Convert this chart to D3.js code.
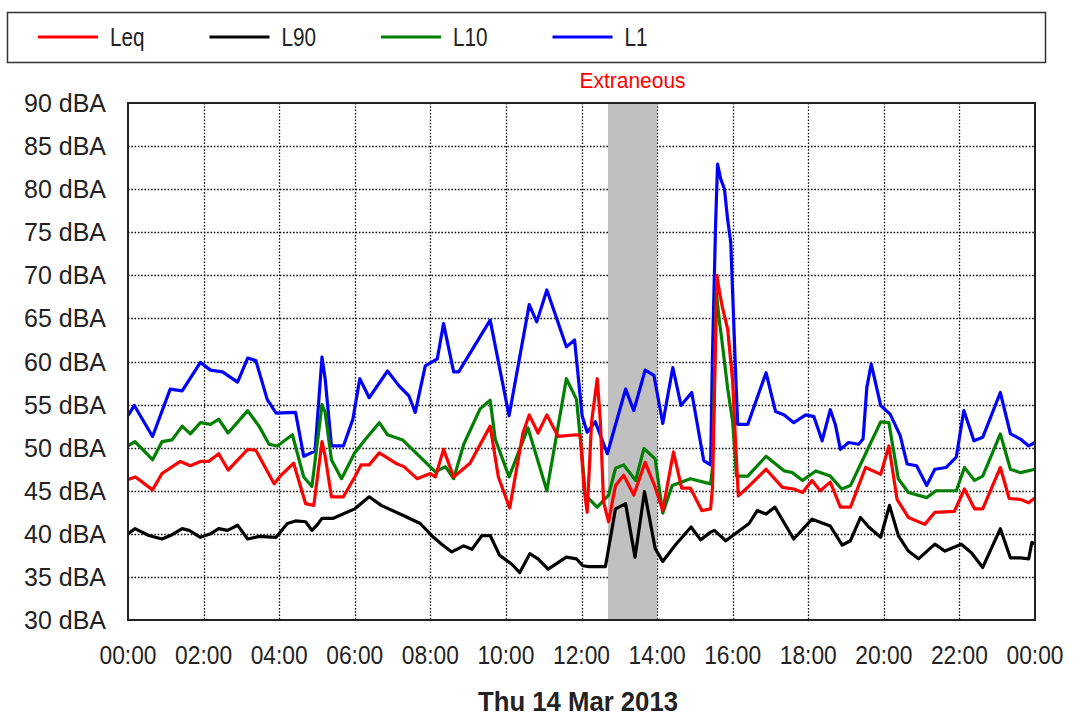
<!DOCTYPE html>
<html>
<head>
<meta charset="utf-8">
<script src="https://cdn.jsdelivr.net/npm/d3@7"></script>
<style>
  body { margin: 0; background: #fff; }
  svg { display: block; }
  .ylab { font-family: "Liberation Sans", Arial, sans-serif; font-size: 25px; fill: #222; }
  .xlab { font-family: "Liberation Sans Narrow", "Liberation Sans", sans-serif; font-size: 25px; fill: #222; }
</style>
</head>
<body>
<svg width="1075" height="718"></svg>
<script>
// series names and colours, in legend order
var seriesNames = ["Leq", "L90", "L10", "L1"];
var seriesColors = ["#ff0000", "#000000", "#008000", "#0000ff"];

var yTicks = [30, 35, 40, 45, 50, 55, 60, 65, 70, 75, 80, 85, 90];
var xTicks = [0, 2, 4, 6, 8, 10, 12, 14, 16, 18, 20, 22, 24];
var xTickLabels = ["00:00", "02:00", "04:00", "06:00", "08:00", "10:00", "12:00",
                   "14:00", "16:00", "18:00", "20:00", "22:00", "00:00"];
var dateLabel = "Thu 14 Mar 2013";

// period marked as extraneous
var bandStart = "12:42", bandEnd = "14:00", bandLabel = "Extraneous";

// [time, dBA]
var l1Data = [["00:00",53.7],["00:10",54.9],["00:39",51.3],["01:07",56.8],["01:26",56.6],["01:55",59.9],
  ["02:11",59.0],["02:30",58.8],["02:54",57.6],["03:10",60.4],["03:23",60.1],["03:41",55.6],["03:55",54.0],
  ["04:26",54.1],["04:39",49.0],["04:57",49.6],["05:08",60.5],["05:13",58.0],["05:23",50.2],["05:42",50.2],
  ["05:57",53.3],["06:08",58.0],["06:23",55.8],["06:52",58.9],["07:10",57.2],["07:26",56.0],["07:36",54.1],
  ["07:52",59.5],["08:11",60.3],["08:21",64.4],["08:37",58.8],["08:45",58.8],["09:35",64.8],["10:05",53.7],
  ["10:37",66.6],["10:49",64.6],["11:05",68.3],["11:36",61.7],["11:49",62.5],["12:01",53.7],["12:09",51.8],
  ["12:22",53.0],["12:41",49.3],["13:10",56.8],["13:23",54.3],["13:41",59.0],["13:55",58.4],["14:09",52.8],
  ["14:25",59.3],["14:38",54.9],["14:55",56.4],["15:14",48.5],["15:25",48.0],["15:28",61.0],["15:33",76.2],
  ["15:36",82.9],["15:41",81.2],["15:47",80.0],["15:52",76.5],["15:57",73.8],["16:04",60.0],["16:08",52.7],
  ["16:24",52.7],["16:53",58.7],["17:08",54.2],["17:22",53.8],["17:37",52.9],["17:56",53.8],["18:09",53.6],
  ["18:22",50.8],["18:35",54.4],["18:43",52.7],["18:51",49.8],["19:04",50.6],["19:20",50.4],["19:27",51.0],
  ["19:33",57.0],["19:40",59.7],["19:55",54.9],["20:10",53.9],["20:26",51.4],["20:37",48.1],["20:52",47.9],
  ["21:08",45.6],["21:21",47.5],["21:39",47.7],["21:55",48.9],["22:07",54.3],["22:23",50.8],["22:37",51.2],
  ["23:05",56.4],["23:21",51.6],["23:37",51.0],["23:50",50.2],["24:00",50.6]];

var l10Data = [["00:00",50.2],["00:11",50.7],["00:39",48.6],["00:54",50.7],["01:10",50.9],["01:26",52.5],
  ["01:39",51.6],["01:55",52.9],["02:11",52.7],["02:24",53.3],["02:39",51.7],["03:10",54.3],["03:28",52.5],
  ["03:44",50.4],["03:57",50.2],["04:21",51.5],["04:39",46.6],["04:52",45.5],["05:08",55.0],["05:13",54.1],
  ["05:23",48.6],["05:39",46.4],["06:00",49.4],["06:16",50.9],["06:39",52.9],["06:52",51.5],["07:16",50.9],
  ["08:08",47.2],["08:24",47.8],["08:37",46.4],["08:53",50.4],["09:19",54.5],["09:35",55.5],["09:43",51.0],
  ["10:05",46.6],["10:35",52.3],["11:05",45.0],["11:36",58.0],["11:52",55.6],["12:01",49.0],["12:06",44.5],
  ["12:25",43.1],["12:43",44.5],["12:54",47.6],["13:07",48.0],["13:26",46.2],["13:39",49.9],["13:57",48.7],
  ["14:09",42.4],["14:24",45.6],["14:53",46.4],["15:25",45.8],["15:28",47.7],["15:34",68.1],["15:39",64.6],
  ["15:42",63.0],["15:52",56.9],["16:00",53.0],["16:06",46.7],["16:24",46.7],["16:53",49.0],["17:22",47.3],
  ["17:35",47.1],["17:51",46.2],["18:12",47.3],["18:35",46.7],["18:53",45.2],["19:07",45.6],["19:31",49.3],
  ["19:55",53.0],["20:08",52.9],["20:23",46.4],["20:39",44.8],["21:08",44.2],["21:23",45.0],["21:55",45.0],
  ["22:08",47.7],["22:24",46.2],["22:37",46.7],["23:05",51.6],["23:21",47.5],["23:37",47.1],["24:00",47.5]];

var l90Data = [["00:00",40.0],["00:11",40.6],["00:33",39.8],["00:54",39.4],["01:10",39.9],["01:26",40.6],
  ["01:37",40.4],["01:55",39.6],["02:11",40.0],["02:24",40.6],["02:38",40.4],["02:54",41.0],["03:10",39.4],
  ["03:28",39.7],["03:55",39.6],["04:13",41.2],["04:26",41.5],["04:42",41.4],["04:52",40.4],["05:00",41.0],
  ["05:08",41.8],["05:26",41.8],["06:00",42.9],["06:23",44.3],["06:42",43.3],["07:18",42.1],["07:44",41.2],
  ["08:05",39.6],["08:18",38.8],["08:34",37.9],["08:53",38.6],["09:06",38.2],["09:22",39.8],["09:35",39.8],
  ["09:50",37.5],["10:09",36.5],["10:22",35.5],["10:38",37.7],["10:51",37.1],["11:07",35.9],["11:36",37.3],
  ["11:52",37.1],["12:02",36.3],["12:12",36.2],["12:38",36.2],["12:54",42.9],["13:10",43.5],["13:25",37.3],
  ["13:40",44.9],["13:57",38.3],["14:09",36.8],["14:29",38.7],["14:54",40.8],["15:09",39.3],["15:25",40.2],
  ["15:31",40.4],["15:49",39.2],["16:26",41.2],["16:39",42.7],["16:53",42.3],["17:07",43.1],["17:37",39.4],
  ["18:06",41.7],["18:35",40.9],["18:54",38.7],["19:07",39.2],["19:23",41.9],["19:36",40.8],["19:55",39.6],
  ["20:09",43.3],["20:23",39.8],["20:39",38.0],["20:55",37.1],["21:21",38.8],["21:37",38.0],["22:03",38.8],
  ["22:19",37.8],["22:37",36.1],["23:05",40.6],["23:21",37.2],["23:37",37.2],["23:50",37.1],["23:55",39.0],
  ["24:00",38.8]];

var leqData = [["00:00",46.3],["00:12",46.6],["00:39",45.1],["00:54",47.0],["01:23",48.4],["01:39",47.9],
  ["01:55",48.4],["02:08",48.4],["02:24",49.3],["02:39",47.4],["03:10",49.8],["03:23",49.7],["03:52",45.8],
  ["04:03",46.8],["04:23",48.2],["04:42",43.5],["04:55",43.3],["05:08",50.7],["05:13",49.0],["05:23",44.3],
  ["05:42",44.3],["06:00",46.6],["06:10",48.0],["06:23",48.0],["06:39",49.4],["07:05",48.2],["07:18",47.8],
  ["07:39",46.4],["08:00",47.0],["08:08",46.6],["08:21",49.8],["08:37",46.6],["09:03",48.2],["09:35",52.5],
  ["09:48",46.6],["10:06",43.0],["10:27",51.7],["10:37",53.8],["10:51",51.7],["11:05",53.8],["11:23",51.3],
  ["11:52",51.5],["11:58",51.4],["12:04",45.3],["12:09",42.5],["12:16",53.0],["12:25",58.0],["12:30",53.0],
  ["12:35",43.7],["12:43",41.4],["12:54",45.6],["13:07",46.8],["13:23",44.5],["13:41",48.3],["13:56",45.6],
  ["14:09",42.7],["14:26",49.5],["14:39",45.3],["14:53",45.3],["15:11",42.7],["15:25",42.9],["15:28",45.4],
  ["15:35",70.0],["15:39",68.1],["15:44",66.2],["15:52",63.8],["15:57",60.0],["16:00",57.7],["16:05",50.0],
  ["16:09",44.4],["16:24",45.4],["16:53",47.5],["17:19",45.4],["17:37",45.2],["17:51",44.8],["18:06",46.2],
  ["18:19",45.0],["18:35",46.0],["18:51",43.1],["19:07",43.1],["19:31",47.7],["19:55",46.9],["20:08",50.2],
  ["20:21",44.0],["20:39",41.9],["21:05",41.1],["21:21",42.5],["21:52",42.6],["22:08",45.2],["22:24",42.9],
  ["22:37",42.9],["23:05",47.7],["23:19",44.1],["23:37",44.0],["23:50",43.6],["24:00",44.2]];

var svg = d3.select("svg");

function hrs(t) {
  var p = t.split(":");
  return +p[0] + (+p[1]) / 60;
}

var x = d3.scaleLinear().domain([0, 24]).range([128, 1035]);
var y = d3.scaleLinear().domain([30, 90]).range([620, 103]);

// legend box
var lg = svg.append("g");
lg.append("rect").attr("x", 7.5).attr("y", 12.5).attr("width", 1038).attr("height", 50)
  .attr("fill", "#fff").attr("stroke", "#333").attr("stroke-width", 1.5);
seriesNames.forEach(function(n, i) {
  var x0 = 38 + i * 171.5;
  lg.append("line").attr("x1", x0).attr("x2", x0 + 60).attr("y1", 37).attr("y2", 37)
    .attr("stroke", seriesColors[i]).attr("stroke-width", 3.2);
  lg.append("text").attr("class", "xlab").attr("x", x0 + 72).attr("y", 46)
    .attr("textLength", n.length * 11.5).attr("lengthAdjust", "spacingAndGlyphs").text(n);
});

// grid
var grid = svg.append("g").attr("stroke", "#000").attr("stroke-width", 1.3)
  .attr("stroke-dasharray", "1.5,1.8");
grid.selectAll(".gx").data(xTicks.slice(1, -1)).enter().append("line")
  .attr("x1", function(d) { return Math.round(x(d)) + 0.5; })
  .attr("x2", function(d) { return Math.round(x(d)) + 0.5; })
  .attr("y1", y(90)).attr("y2", y(30));
grid.selectAll(".gy").data(yTicks.slice(1, -1)).enter().append("line")
  .attr("y1", function(d) { return Math.round(y(d)) + 0.5; })
  .attr("y2", function(d) { return Math.round(y(d)) + 0.5; })
  .attr("x1", x(0)).attr("x2", x(24));

// extraneous band
svg.append("rect").attr("x", x(hrs(bandStart))).attr("width", x(hrs(bandEnd)) - x(hrs(bandStart)))
  .attr("y", y(90)).attr("height", y(30) - y(90)).attr("fill", "#c0c0c0");
svg.append("text").attr("class", "xlab").attr("x", (x(hrs(bandStart)) + x(hrs(bandEnd))) / 2)
  .attr("y", 88).attr("text-anchor", "middle").style("fill", "#ff0000").style("font-size", "22px")
  .attr("textLength", 106).attr("lengthAdjust", "spacingAndGlyphs")
  .text(bandLabel);

// lines (drawn back to front)
var line = d3.line().x(function(d) { return x(hrs(d[0])); }).y(function(d) { return y(d[1]); });
var drawOrder = [[l1Data, 3], [l10Data, 2], [l90Data, 1], [leqData, 0]];
drawOrder.forEach(function(s) {
  svg.append("path").datum(s[0]).attr("d", line).attr("fill", "none")
    .attr("stroke", seriesColors[s[1]]).attr("stroke-width", 3.2).attr("stroke-linejoin", "round");
});

// frame
svg.append("rect").attr("x", x(0)).attr("y", y(90)).attr("width", x(24) - x(0)).attr("height", y(30) - y(90))
  .attr("fill", "none").attr("stroke", "#222").attr("stroke-width", 2);

// axes labels
svg.selectAll(".yl").data(yTicks).enter().append("text").attr("class", "ylab")
  .attr("x", 106).attr("y", function(d) { return y(d) + 9; }).attr("text-anchor", "end")
  .text(function(d) { return d + " dBA"; });
svg.selectAll(".xl").data(xTicks).enter().append("text").attr("class", "xlab")
  .attr("x", function(d) { return x(d); }).attr("y", 664).attr("text-anchor", "middle")
  .attr("textLength", 57).attr("lengthAdjust", "spacingAndGlyphs")
  .text(function(d, i) { return xTickLabels[i]; });

svg.append("text").attr("class", "xlab").attr("x", 578).attr("y", 711).attr("text-anchor", "middle")
  .style("font-weight", "bold").style("font-size", "27px")
  .attr("textLength", 200).attr("lengthAdjust", "spacingAndGlyphs").text(dateLabel);
</script>
</body>
</html>
